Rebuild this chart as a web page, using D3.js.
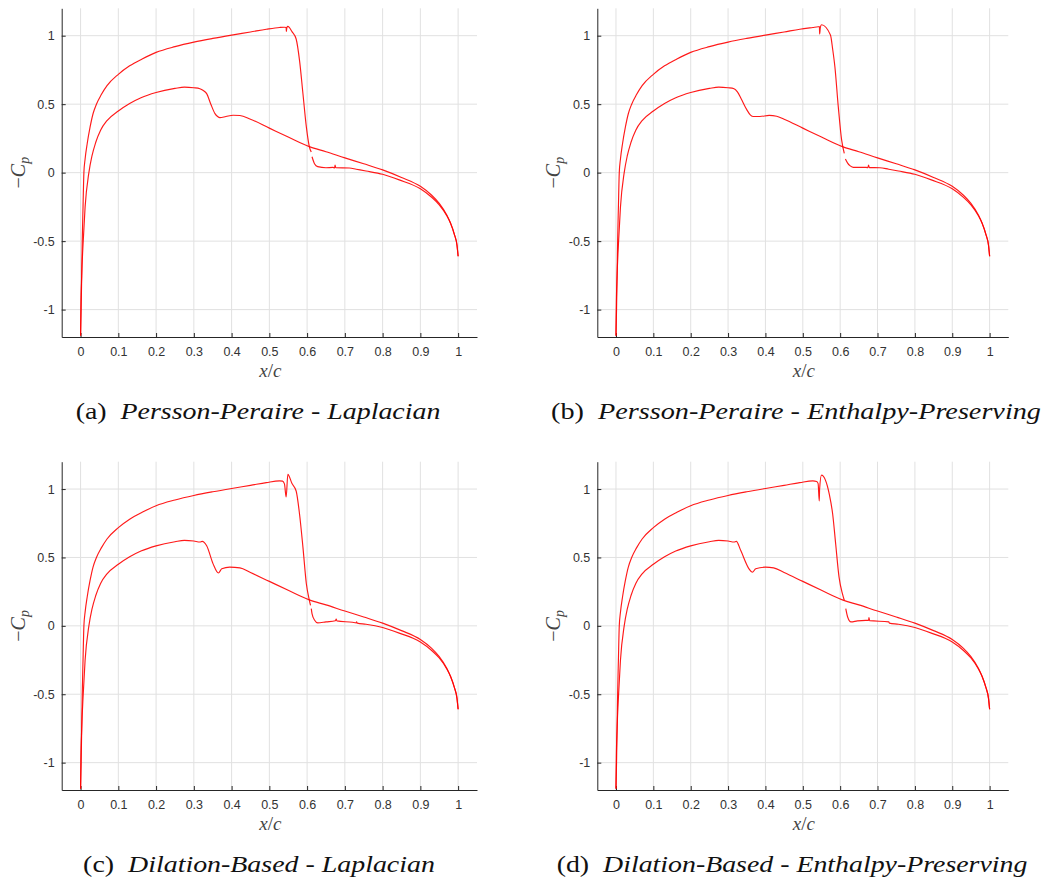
<!DOCTYPE html>
<html>
<head>
<meta charset="utf-8">
<script src="https://cdn.jsdelivr.net/npm/d3@7"></script>
<style>
  html, body { margin: 0; padding: 0; background: #fff; }
  svg { display: block; }
</style>
</head>
<body>
<svg id="chart" width="1049" height="884"></svg>
<script>
// ---------------- DATA ----------------
const xTicks = [0, 0.1, 0.2, 0.3, 0.4, 0.5, 0.6, 0.7, 0.8, 0.9, 1];
const xTickLabels = ["0", "0.1", "0.2", "0.3", "0.4", "0.5", "0.6", "0.7", "0.8", "0.9", "1"];
const yTicks = [-1, -0.5, 0, 0.5, 1];
const yTickLabels = ["-1", "-0.5", "0", "0.5", "1"];
const xDomain = [-0.05, 1.05];
const yDomain = [-1.2, 1.2];

const captionLetters = ["(a)", "(b)", "(c)", "(d)"];
const captionNames = [
  "Persson-Peraire - Laplacian",
  "Persson-Peraire - Enthalpy-Preserving",
  "Dilation-Based - Laplacian",
  "Dilation-Based - Enthalpy-Preserving"
];

// suction side (-Cp up to ~1.1), leading edge part, common to all panels
const upperLE = [[0,-1.19],[0.0015,-1.0],[0.003,-0.75],[0.0044,-0.5],[0.0065,-0.25],[0.0088,0.0],
  [0.012,0.1],[0.0176,0.213],[0.025,0.33],[0.033,0.43],[0.042,0.5],[0.055,0.57],[0.07,0.635],
  [0.1,0.718],[0.13,0.78],[0.163,0.83],[0.2,0.878],[0.25,0.92],[0.3,0.953],[0.35,0.98],
  [0.404,1.006],[0.45,1.027],[0.492,1.047],[0.527,1.06]];

// suction side around the shock, one per panel (null = gap in the line)
const shockUpperA = [[0.54,1.062],[0.5445,1.06],[0.545,1.031],[0.5465,1.06],[0.549,1.068],[0.56,1.03],
  [0.571,0.976],[0.58,0.818],[0.589,0.576],[0.598,0.334],[0.606,0.189],[0.611,0.15],[0.612,null],
  [0.613,0.116],[0.62,0.063],[0.628,0.044],[0.65,0.036],[0.668,0.038],[0.673,0.035],[0.674,0.056],
  [0.676,0.036],[0.712,0.034],[0.73,0.025]];
const shockUpperB = [[0.541,1.065],[0.5445,1.066],[0.545,1.012],[0.547,1.06],[0.55,1.08],[0.574,1.005],
  [0.58,0.9],[0.586,0.77],[0.595,0.48],[0.604,0.237],[0.611,0.14],[0.6125,null],[0.614,0.1],
  [0.62,0.07],[0.626,0.051],[0.635,0.039],[0.67,0.038],[0.674,0.036],[0.676,0.055],[0.678,0.037],
  [0.706,0.036],[0.73,0.025]];
const shockUpperC = [[0.535,1.058],[0.54,1.038],[0.5445,0.942],[0.549,1.107],[0.56,1.04],[0.571,0.986],
  [0.58,0.816],[0.589,0.574],[0.598,0.308],[0.606,0.187],[0.609,0.15],[0.61,null],[0.611,0.126],
  [0.613,0.09],[0.62,0.041],[0.628,0.022],[0.65,0.029],[0.675,0.037],[0.677,0.05],[0.679,0.036],
  [0.72,0.026],[0.73,0.022],[0.731,0.03],[0.733,0.02]];
const shockUpperD = [[0.537,1.055],[0.541,1.04],[0.544,0.913],[0.545,1.0],[0.55,1.102],[0.571,0.961],
  [0.58,0.816],[0.588,0.598],[0.597,0.356],[0.606,0.235],[0.611,0.187],[0.613,null],[0.615,0.126],
  [0.62,0.065],[0.629,0.029],[0.646,0.036],[0.668,0.04],[0.676,0.04],[0.677,0.06],[0.679,0.038],
  [0.73,0.029],[0.732,0.02]];

// suction side after the shock to the trailing edge, common
const upperTE = [[0.756,0.012],[0.8,-0.012],[0.844,-0.053],[0.9,-0.118],[0.93,-0.18],[0.95,-0.235],
  [0.97,-0.315],[0.98,-0.37],[0.99,-0.45],[0.997,-0.53],[1.0,-0.61]];

// pressure side, leading edge part, common
const lowerLE = [[0,-1.19],[0.0007,-1.0],[0.003,-0.75],[0.007,-0.5],[0.012,-0.25],[0.022,0.0],
  [0.03,0.12],[0.04,0.22],[0.053,0.31],[0.07,0.38],[0.1,0.45],[0.13,0.505],[0.16,0.547],
  [0.2,0.585],[0.25,0.615],[0.275,0.625],[0.3,0.62],[0.316,0.613]];

// pressure side around its weak shock, one per panel
const lowerShockA = [[0.325,0.6],[0.334,0.577],[0.345,0.5],[0.356,0.431],[0.363,0.41],[0.369,0.402],
  [0.385,0.41],[0.404,0.419],[0.422,0.417]];
const lowerShockB = [[0.325,0.59],[0.335,0.54],[0.35,0.46],[0.36,0.42],[0.368,0.41],[0.385,0.41],
  [0.41,0.418],[0.43,0.412]];
const lowerShockC = [[0.322,0.618],[0.334,0.586],[0.351,0.453],[0.365,0.386],[0.374,0.417],
  [0.395,0.429],[0.422,0.424]];
const lowerShockD = [[0.322,0.618],[0.334,0.55],[0.356,0.417],[0.365,0.392],[0.374,0.417],
  [0.4,0.429],[0.422,0.424]];

// pressure side to the trailing edge, common
const lowerTE = [[0.45,0.39],[0.5,0.325],[0.55,0.26],[0.606,0.19],[0.65,0.153],[0.7,0.108],
  [0.75,0.065],[0.8,0.02],[0.85,-0.035],[0.9,-0.1],[0.93,-0.165],[0.95,-0.225],[0.97,-0.31],
  [0.98,-0.37],[0.99,-0.45],[0.997,-0.53],[1.0,-0.61]];

const upperShocks = [shockUpperA, shockUpperB, shockUpperC, shockUpperD];
const lowerShocks = [lowerShockA, lowerShockB, lowerShockC, lowerShockD];

// ---------------- LAYOUT ----------------
const layout = [
  { left: 61.7, right: 477,   top: 8.3,   bottom: 337, capX: 258, capY: 419, capW: 365 },
  { left: 597.3, right: 1008.3, top: 8.3, bottom: 337, capX: 796, capY: 419, capW: 490 },
  { left: 61.7, right: 477,   top: 461.7, bottom: 790, capX: 259, capY: 872, capW: 352 },
  { left: 597.3, right: 1008.3, top: 461.7, bottom: 790, capX: 792, capY: 872, capW: 471 }
];

const svg = d3.select("#chart");
const axisColor = "#262626";
const gridColor = "#e1e1e1";
const tickFont = "'Liberation Sans', Arial, Helvetica, sans-serif";
const mathFont = "'Liberation Serif', 'Times New Roman', serif";

layout.forEach((L, i) => {
  const x = d3.scaleLinear().domain(xDomain).range([L.left, L.right]);
  const y = d3.scaleLinear().domain(yDomain).range([L.bottom, L.top]);
  const g = svg.append("g");

  // grid
  g.append("g").selectAll("line").data(xTicks).join("line")
    .attr("x1", d => x(d)).attr("x2", d => x(d))
    .attr("y1", L.top).attr("y2", L.bottom)
    .attr("stroke", gridColor).attr("stroke-width", 1);
  g.append("g").selectAll("line").data(yTicks).join("line")
    .attr("y1", d => y(d)).attr("y2", d => y(d))
    .attr("x1", L.left).attr("x2", L.right)
    .attr("stroke", gridColor).attr("stroke-width", 1);

  // axes
  const xAxis = d3.axisBottom(x).tickValues(xTicks)
    .tickFormat((d, k) => xTickLabels[k]).tickSizeInner(-4).tickSizeOuter(0).tickPadding(10);
  const yAxis = d3.axisLeft(y).tickValues(yTicks)
    .tickFormat((d, k) => yTickLabels[k]).tickSizeInner(-4).tickSizeOuter(0).tickPadding(7);

  const gx = g.append("g").attr("transform", `translate(0,${L.bottom})`).call(xAxis);
  const gy = g.append("g").attr("transform", `translate(${L.left},0)`).call(yAxis);
  [gx, gy].forEach(a => {
    a.select(".domain").attr("stroke", axisColor);
    a.selectAll(".tick line").attr("stroke", axisColor);
    a.selectAll(".tick text").attr("fill", "#333").style("font-family", tickFont).style("font-size", "12.5px");
  });

  // curves
  const line = d3.line().defined(d => d[1] !== null).x(d => x(d[0])).y(d => y(d[1]))
    .curve(d3.curveMonotoneX);
  const up = [...upperLE, ...upperShocks[i], ...upperTE];
  const lo = [...lowerLE, ...lowerShocks[i], ...lowerTE];
  [up, lo].forEach(s => {
    g.append("path").datum(s).attr("d", line)
      .attr("fill", "none").attr("stroke", "#ff0000").attr("stroke-width", 1.15)
      .attr("stroke-linejoin", "round").attr("stroke-opacity", 0.9);
  });

  // x label
  const xl = g.append("text").attr("x", (L.left + L.right) / 2 + 1).attr("y", L.bottom + 40)
    .attr("text-anchor", "middle").attr("fill", "#444")
    .style("font-family", mathFont).style("font-size", "19px");
  xl.append("tspan").style("font-style", "italic").text("x");
  xl.append("tspan").text("/");
  xl.append("tspan").style("font-style", "italic").text("c");

  // y label
  const cy = (L.top + L.bottom) / 2;
  const yl = g.append("text")
    .attr("transform", `translate(${L.left - 37},${cy}) rotate(-90)`)
    .attr("text-anchor", "middle").attr("fill", "#444")
    .style("font-family", mathFont).style("font-size", "20px");
  yl.append("tspan").text("\u2212");
  yl.append("tspan").style("font-style", "italic").text("C");
  yl.append("tspan").style("font-style", "italic").style("font-size", "14px").attr("dy", 4).text("p");

  // caption (stretched horizontally to the reference's wider TeX font)
  const cap = svg.append("text").attr("x", 0).attr("y", 0)
    .attr("text-anchor", "middle").attr("fill", "#111")
    .style("font-family", mathFont).style("font-size", "23px");
  cap.append("tspan").text(captionLetters[i] + "\u2002");
  cap.append("tspan").style("font-style", "italic").text(captionNames[i]);
  const w = cap.node().getComputedTextLength();
  cap.attr("transform", `translate(${L.capX},${L.capY}) scale(${L.capW / w},1)`);
});
</script>
</body>
</html>
